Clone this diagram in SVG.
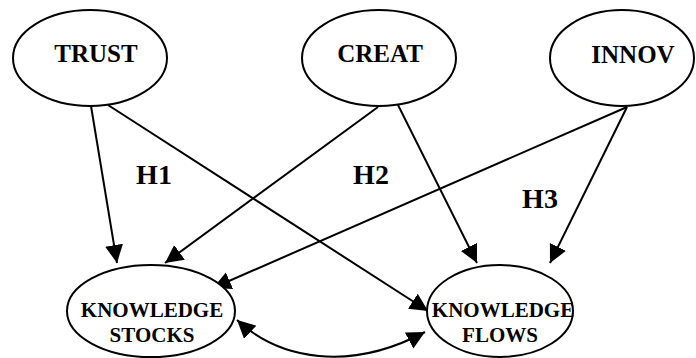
<svg xmlns="http://www.w3.org/2000/svg" width="696" height="358" viewBox="0 0 696 358">
<style>
.node ellipse{fill:#fff;stroke:#000;stroke-width:2}
text{font-family:'Liberation Serif','Times New Roman','DejaVu Serif',serif;font-weight:700;fill:#000;text-anchor:middle}
.big{font-size:25px}
.small{font-size:21px}
.h{font-size:28px}
.edge{fill:none;stroke:#000;stroke-width:2}
</style>
<defs>
<marker id="arr" markerUnits="userSpaceOnUse" markerWidth="20" markerHeight="20" refX="18" refY="9" orient="auto-start-reverse" viewBox="0 0 20 20">
<path d="M0,0 L18,9 L0,18 z" fill="#000"/>
</marker>
</defs>
<rect width="696" height="358" fill="#fff"/>
<g id="connectors">
<line class="edge" x1="91" y1="106" x2="117" y2="263" marker-end="url(#arr)"/>
<line class="edge" x1="108" y1="105" x2="428" y2="311" marker-end="url(#arr)"/>
<line class="edge" x1="378" y1="107" x2="165" y2="263" marker-end="url(#arr)"/>
<line class="edge" x1="398" y1="105" x2="477" y2="263" marker-end="url(#arr)"/>
<line class="edge" x1="627" y1="107" x2="213" y2="288" marker-end="url(#arr)"/>
<line class="edge" x1="627" y1="107" x2="550" y2="263" marker-end="url(#arr)"/>
<path class="edge" d="M237,320 C280,360 350,372 425,332" marker-start="url(#arr)" marker-end="url(#arr)"/>
</g>
<g id="trust" class="node">
<ellipse cx="90" cy="58" rx="77" ry="48"/>
<text class="big" x="96" y="62" font-family="Liberation Serif">TRUST</text>
</g>
<g id="creat" class="node">
<ellipse cx="379" cy="58" rx="77" ry="48"/>
<text class="big" x="380" y="62">CREAT</text>
</g>
<g id="innov" class="node">
<ellipse cx="622" cy="58" rx="72" ry="48"/>
<text class="big" x="633" y="63">INNOV</text>
</g>
<g id="stocks" class="node">
<ellipse cx="151" cy="311" rx="84" ry="46"/>
<text class="small" x="152" y="317">KNOWLEDGE</text>
<text class="small" x="152" y="342">STOCKS</text>
</g>
<g id="flows" class="node">
<ellipse cx="500" cy="311" rx="73" ry="46"/>
<text class="small" x="503" y="317">KNOWLEDGE</text>
<text class="small" x="500" y="342">FLOWS</text>
</g>
<g id="hypotheses">
<text class="h" x="154" y="184">H1</text>
<text class="h" x="371" y="184">H2</text>
<text class="h" x="540" y="208">H3</text>
</g>
</svg>
